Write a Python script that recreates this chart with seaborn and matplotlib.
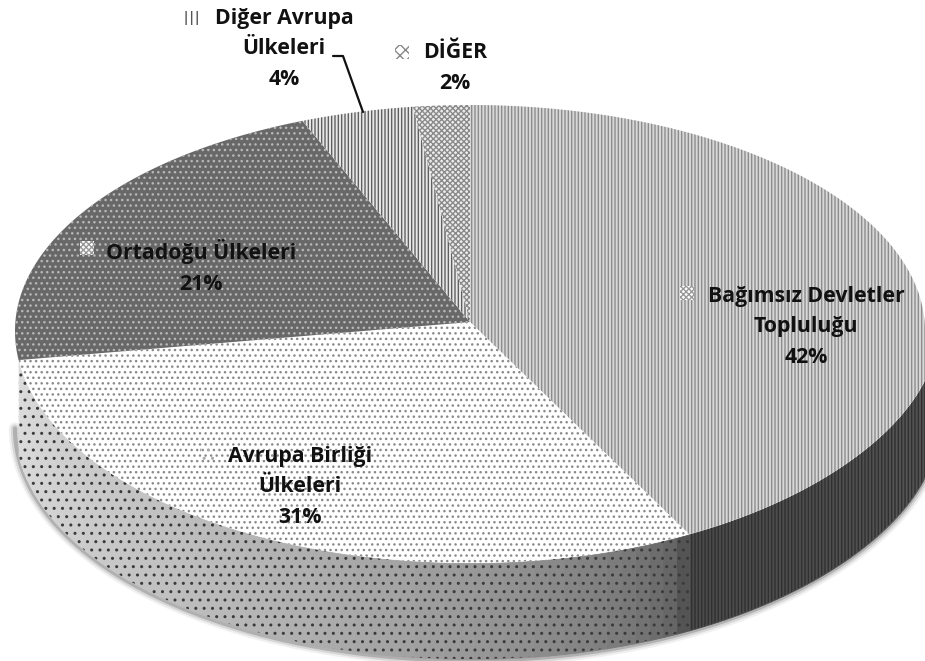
import numpy as np
import matplotlib
matplotlib.use("Agg")
import matplotlib.pyplot as plt
import seaborn as sns

# data
names = ["Bağımsız Devletler\nTopluluğu", "Avrupa Birliği\nÜlkeleri", "Ortadoğu Ülkeleri",
         "Diğer Avrupa\nÜlkeleri", "DİĞER"]
values = [42, 31, 21, 4, 2]

# styles per slice
face_colors = ["#d8d8d8", "#ffffff", "#686868", "#e8e8e8", "#ececec"]
hatch_colors = ["#8c8c8c", "#8a8a8a", "#b8b8b8", "#606060", "#8a8a8a"]
hatches = ["|||||", "...", "...", "|||||", "xxxxxx"]
side_hatches = ["|||||", "..", "..", "|||", "xxx"]
side_hatch_colors = ["#303030", "#3a3a3a", "#2a2a2a", "#2e2e2e", "#2e2e2e"]
side_shades = [(0.36, 0.29), (0.33, 0.86), (0.6, 0.8), (0.5, 0.5), (0.5, 0.5)]

# label and key spots in image pixels
label_pos = [(806, 327), (300, 487), (201, 267), (284, 49), (455, 68)]
key_pos = [(687, 293), (207, 453), (87, 248), (191, 18), (402, 52)]
key_hatches = ["xxxxxx", "..", "xxxxxx", "|||", "xxx"]
key_colors = ["#999999", "#aaaaaa", "#999999", "#555555", "#888888"]

W, H = 925, 661
cx, cy = 470, 331
vertex_y = 9 / 226
depth = 96 / 226


def px(x, y):
    return (np.asarray(x) - cx) / 455, (cy - np.asarray(y)) / 226


def rim(t):
    # the picture has perspective, the front half of the disc is a bit bigger
    x = np.sin(t) * np.where((t > np.pi / 2) & (t < np.pi), 1 + 0.027 * np.sin(t) ** 6, 1)
    y = np.cos(t) * np.where(np.cos(t) < 0, 232 / 226, 1)
    return x, y


sns.set_theme(style="white")
plt.rcParams["font.family"] = ["Open Sans", "DejaVu Sans"]
plt.rcParams["hatch.linewidth"] = 1.0

fig = plt.figure(figsize=(W / 100, H / 100), dpi=100)
ax = fig.add_axes([0, 0, 1, 1])
ax.set_xlim(px(0, 0)[0], px(W, 0)[0])
ax.set_ylim(px(0, H)[1], px(0, 0)[1])
ax.axis("off")

# slice edges, clockwise from 12 o'clock
edges = np.cumsum([0] + values) / sum(values) * 2 * np.pi

# soft shadow below the rim
t = np.linspace(np.pi / 2, 3 * np.pi / 2, 300)
sx, sy = rim(t)
for lw, a in [(9, 0.06), (6, 0.10), (3, 0.18)]:
    ax.plot(sx, sy - depth - 1.5 / 226, color="black", lw=lw, alpha=a,
            solid_capstyle="round", zorder=1)

# side wall, only the front shows
for i in range(len(values)):
    lo = max(edges[i], np.pi / 2)
    hi = min(edges[i + 1], edges[2])
    if hi <= lo:
        continue
    steps = np.linspace(lo, hi, 60)
    u = np.linspace(0, 1, 59) ** 0.5
    shades = side_shades[i][0] + (side_shades[i][1] - side_shades[i][0]) * u
    for a, b, s in zip(steps[:-1], steps[1:], shades):
        rx, ry = rim(np.array([a, b]))
        ax.fill_between(rx, ry, ry - depth, color=str(s), lw=0.6, zorder=2)
    rx, ry = rim(steps)
    ax.fill_between(rx, ry, ry - depth, facecolor="none",
                    edgecolor=side_hatch_colors[i], hatch=side_hatches[i], lw=0, zorder=3)

# top face
for i in range(len(values)):
    tt = np.linspace(edges[i], edges[i + 1], 150)
    rx, ry = rim(tt)
    ax.fill(np.r_[0, rx], np.r_[vertex_y, ry], facecolor=face_colors[i],
            edgecolor=hatch_colors[i], hatch=hatches[i], lw=0, zorder=4)

# leader line for Diğer Avrupa
lx, ly = px([333, 343, 363], [56, 56, 112])
ax.plot(lx, ly, color="#111111", lw=1.6, zorder=5)

# labels and their little pattern keys
for i in range(len(values)):
    fig.text(label_pos[i][0] / W, 1 - label_pos[i][1] / H, f"{names[i]}\n{values[i]}%",
             ha="center", va="center", fontsize=15.3, fontweight="bold", color="#111111",
             linespacing=1.58)
    kx, ky = key_pos[i]
    bx, by = px([kx - 7, kx + 7, kx + 7, kx - 7], [ky - 7, ky - 7, ky + 7, ky + 7])
    ax.fill(bx, by, facecolor="#ffffff" if i in (0, 2, 4) else "none",
            edgecolor=key_colors[i], hatch=key_hatches[i], lw=0, zorder=6)

fig.savefig("out.png", dpi=100)
